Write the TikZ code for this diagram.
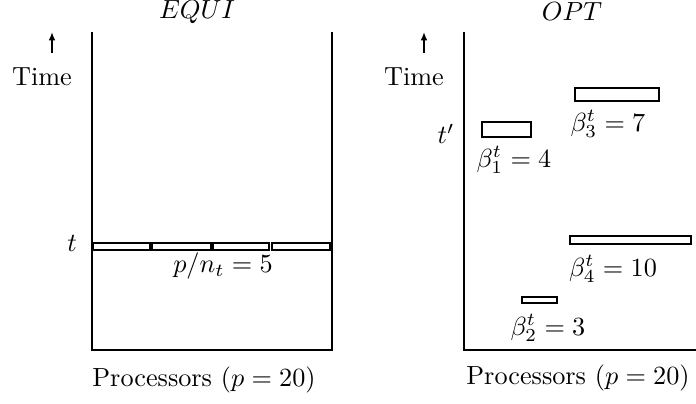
\documentclass[tikz,border=0pt]{standalone}
\usetikzlibrary{arrows.meta,positioning}
\begin{document}
\begin{tikzpicture}[x=0.0134cm,y=-0.0134cm,
  wall/.style={line width=1pt},
  job/.style={draw,line width=1pt},
  lbl/.style={inner sep=0},
  timearr/.style={-{Latex[length=3.2pt,width=2.6pt]},line width=1pt}]
\useasboundingbox (0,0) rectangle (696,404);

% ---- EQUI
\node[lbl] (equi) at (197,12) {$EQUI$};
\draw[timearr] (52,53) coordinate (ta1) -- (52,32) coordinate (tb1);
\node[lbl] (time1) at (42,77) {Time};
\draw[wall] (92,32) coordinate (tl1) -- (92,350) coordinate (bl1) -- (332,350) coordinate (br1) -- (332,32) coordinate (tr1);
\node[lbl] (t) at (72,243) {$t$};
\foreach \a/\b in {93/150,152/211,213/269,272/330}
  \draw[job] (\a,243) rectangle (\b,250);
\node[lbl] (pn) at (223,266) {$p/n_t = 5$};
\node[lbl] (proc1) at (204,380) {Processors $(p = 20)$};

% ---- OPT
\node[lbl] (opt) at (572,12) {$OPT$};
\draw[timearr] (424,53) coordinate (ta2) -- (424,32) coordinate (tb2);
\node[lbl] (time2) at (414,77) {Time};
\draw[wall] (464,32) coordinate (tl2) -- (464,350) coordinate (bl2) -- (697,350) coordinate (br2);
\node[lbl] (tp) at (446,134) {$t'$};
\draw[job] (482,122) rectangle (531,137);
\node[lbl] (b1) at (514,160) {$\beta^t_1 = 4$};
\draw[job] (575,88) rectangle (659,101);
\node[lbl] (b3) at (608,124) {$\beta^t_3 = 7$};
\draw[job] (570,236) rectangle (691,244);
\node[lbl] (b4) at (613,269) {$\beta^t_4 = 10$};
\draw[job] (522,297) rectangle (557,303);
\node[lbl] (b2) at (548,328) {$\beta^t_2 = 3$};
\node[lbl] (proc2) at (578,378) {Processors $(p = 20)$};
\end{tikzpicture}
\end{document}
